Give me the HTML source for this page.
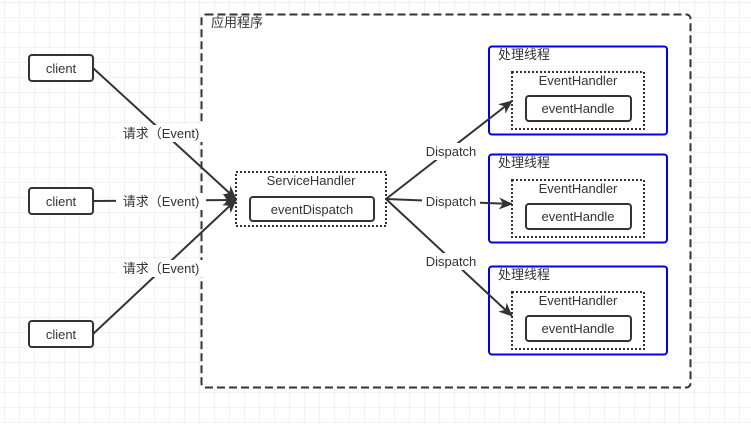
<!DOCTYPE html>
<html><head><meta charset="utf-8"><style>
html,body{margin:0;padding:0;background:#fff}
svg text{font-family:"Liberation Sans","Noto Sans CJK SC",sans-serif;fill:#333}
</style></head><body>
<svg width="751" height="424" xmlns="http://www.w3.org/2000/svg">
<defs>
<pattern id="g" x="5" y="3" width="15" height="15" patternUnits="userSpaceOnUse">
<path d="M15 0V15M0 15H15" stroke="#e6e6e6" stroke-width="1" fill="none"/>
</pattern>
<marker id="a" markerWidth="14" markerHeight="12" refX="13" refY="6" orient="auto" markerUnits="userSpaceOnUse">
<path d="M0,0 L14,6 L0,12 L4,6z" fill="#333"/>
</marker>
</defs>
<rect width="751" height="424" fill="url(#g)"/>
<rect x="201.5" y="14.5" width="489" height="373" rx="4" fill="#fff" stroke="#333" stroke-width="2" stroke-dasharray="8,4"/>
<text x="211" y="27" font-size="13">应用程序</text>

<g stroke="#333" stroke-width="2" fill="#fff">
<rect x="29" y="55" width="64" height="26" rx="3"/>
<rect x="29" y="188" width="64" height="26" rx="3"/>
<rect x="29" y="321" width="64" height="26" rx="3"/>
</g>
<g font-size="13" text-anchor="middle">
<text x="61" y="73">client</text>
<text x="61" y="206">client</text>
<text x="61" y="339">client</text>
</g>

<rect x="236" y="172" width="150" height="54" fill="#fff" stroke="#333" stroke-width="2" stroke-dasharray="2,2"/>
<text x="311" y="185" font-size="13" text-anchor="middle">ServiceHandler</text>
<rect x="250" y="197" width="124" height="24" rx="3" fill="#fff" stroke="#333" stroke-width="2"/>
<text x="312" y="214" font-size="13" text-anchor="middle">eventDispatch</text>

<g id="t">
<rect x="489" y="46.5" width="178" height="88" rx="3" fill="#fff" stroke="#0000ee" stroke-width="2"/>
<text x="498" y="59" font-size="13">处理线程</text>
<rect x="512" y="72" width="132" height="57" fill="#fff" stroke="#333" stroke-width="2" stroke-dasharray="2,2"/>
<text x="578" y="85" font-size="13" text-anchor="middle">EventHandler</text>
<rect x="526" y="96" width="105" height="25" rx="3" fill="#fff" stroke="#333" stroke-width="2"/>
<text x="578" y="113" font-size="13" text-anchor="middle">eventHandle</text>
</g>
<use href="#t" y="108"/>
<use href="#t" y="220"/>

<g stroke="#333" stroke-width="2" fill="none" marker-end="url(#a)">
<line x1="93" y1="68" x2="236" y2="199"/>
<line x1="93" y1="201" x2="236" y2="200"/>
<line x1="93" y1="334" x2="236" y2="200"/>
<line x1="386" y1="199" x2="512" y2="101"/>
<line x1="386" y1="199" x2="512" y2="204"/>
<line x1="386" y1="199" x2="512" y2="316"/>
</g>
<g font-size="13" text-anchor="middle">
<rect x="116" y="125" width="90" height="17" fill="#fff"/>
<text x="161" y="138">请求（Event)</text>
<rect x="116" y="193" width="90" height="17" fill="#fff"/>
<text x="161" y="206">请求（Event)</text>
<rect x="116" y="260" width="90" height="17" fill="#fff"/>
<text x="161" y="273">请求（Event)</text>
<rect x="422" y="143" width="58" height="17" fill="#fff"/>
<text x="451" y="156">Dispatch</text>
<rect x="422" y="193" width="58" height="17" fill="#fff"/>
<text x="451" y="206">Dispatch</text>
<rect x="422" y="253" width="58" height="17" fill="#fff"/>
<text x="451" y="266">Dispatch</text>
</g>
</svg>
</body></html>
